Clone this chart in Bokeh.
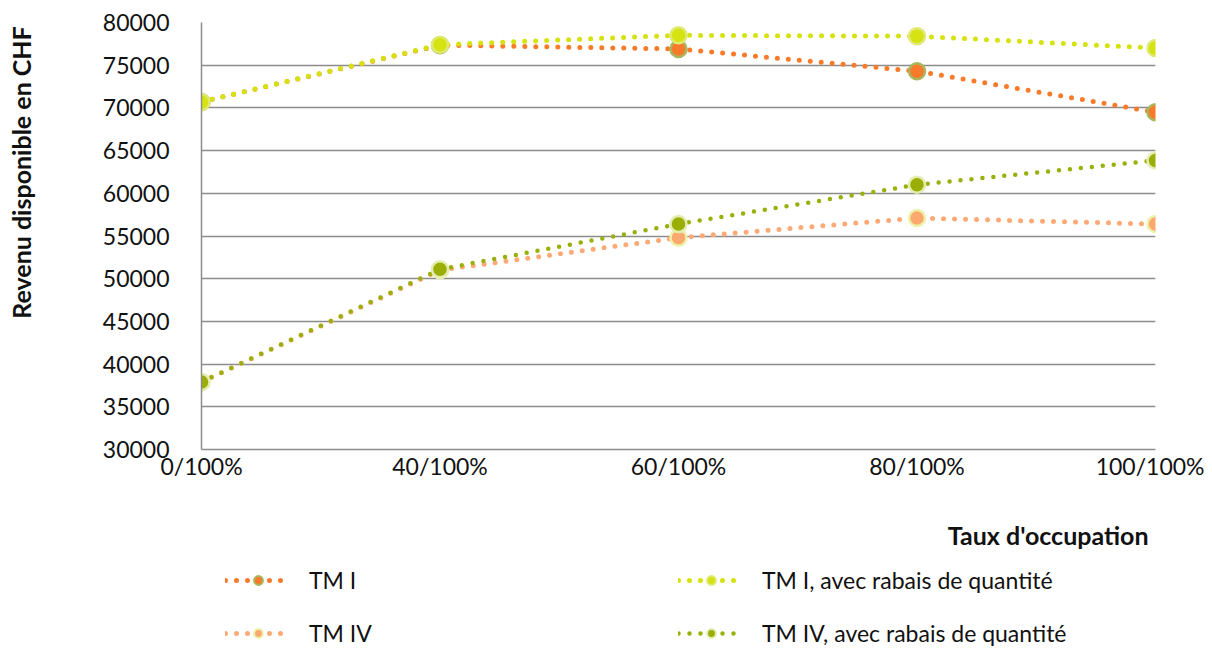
import math
from bokeh.plotting import figure
from bokeh.layouts import row, column
from bokeh.models import (Range1d, FixedTicker, NumeralTickFormatter, Legend,
                          LegendItem, ColumnDataSource, Label)
from bokeh.embed import file_html
from bokeh.resources import INLINE

categories = ["0/100%", "40/100%", "60/100%", "80/100%", "100/100%"]
tm1 = [70700, 77350, 76900, 74300, 69500]
tm1_rabais = [70700, 77400, 78500, 78400, 77000]
tm4 = [37900, 51000, 54800, 57100, 56400]
tm4_rabais = [37900, 51100, 56400, 61000, 63850]
y_ticks = [30000, 35000, 40000, 45000, 50000, 55000, 60000, 65000, 70000, 75000, 80000]

series_names = ["TM I", "TM I, avec rabais de quantité", "TM IV", "TM IV, avec rabais de quantité"]
series_values = [tm1, tm1_rabais, tm4, tm4_rabais]
line_colors = ["#f97b2a", "#d5e20c", "#fdaa76", "#9ab00a"]
fill_colors = ["#f87a2a", "#d6e312", "#fca96f", "#9bae06"]
border_colors = ["#a9b65c", "#dfe974", "#eef2a8", "#e3edb0"]
dot_widths = [5, 5, 5, 4.5]

FONT = "Lato"
TXT = "#111111"
x = list(range(len(categories)))

YLAB_W = 48
MAIN_W = 1156
MAIN_H = 489
LEG_H = 160

# ---------------- main chart ----------------
p = figure(width=MAIN_W, height=MAIN_H,
           x_range=Range1d(0, len(categories) - 1),
           y_range=Range1d(y_ticks[0], y_ticks[-1]),
           output_backend="svg", toolbar_location=None,
           min_border_left=201 - YLAB_W, min_border_top=22,
           min_border_right=49, min_border_bottom=40)
p.outline_line_color = None
p.xgrid.grid_line_color = None
p.ygrid.grid_line_color = "#8c8c8c"
p.ygrid.grid_line_width = 1.5

p.yaxis.ticker = FixedTicker(ticks=y_ticks)
p.yaxis.formatter = NumeralTickFormatter(format="0")
p.xaxis.ticker = FixedTicker(ticks=x)
p.xaxis.major_label_overrides = {i: c for i, c in zip(x, categories)}
for ax in (p.xaxis, p.yaxis):
    ax.major_tick_line_color = None
    ax.minor_tick_line_color = None
    ax.axis_line_color = "#8c8c8c"
    ax.axis_line_width = 1.5
    ax.major_label_text_font = FONT
    ax.major_label_text_font_size = "23px"
    ax.major_label_text_color = TXT
p.yaxis.major_label_standoff = 26
p.xaxis.major_label_standoff = -4

# ---------------- legend strip (below the chart) ----------------
lg = figure(width=YLAB_W + MAIN_W, height=LEG_H, x_range=Range1d(10, 11),
            y_range=Range1d(0, 1), x_axis_type=None, y_axis_type=None,
            output_backend="svg", toolbar_location=None, min_border=0)
lg.outline_line_color = None
lg.grid.visible = False

legend_items = {}
for name, vals, lc, fc, bc, dw in zip(series_names, series_values, line_colors,
                                      fill_colors, border_colors, dot_widths):
    src = ColumnDataSource(dict(x=x, y=vals))
    p.line("x", "y", source=src, line_color=lc, line_width=dw,
           line_dash="0 11", line_cap="round")
    p.scatter("x", "y", source=src, size=16, fill_color=fc,
              line_color=bc, line_width=2.5)
    # same series in the legend strip (outside its visible range), used for the key
    lr = lg.line("x", "y", source=src, line_color=lc, line_width=dw,
                 line_dash="0 11", line_cap="round")
    sr = lg.scatter("x", "y", source=src, size=13, fill_color=fc,
                    line_color=bc, line_width=2)
    legend_items[name] = LegendItem(label=name, renderers=[lr, sr])

xtitle = Label(x=1148, y=LEG_H - 45, x_units="screen", y_units="screen",
               text="Taux d'occupation", text_align="right", text_baseline="middle",
               text_font=FONT, text_font_size="25px", text_font_style="bold",
               text_color=TXT)
lg.add_layout(xtitle)

order = ["TM I", "TM IV", "TM I, avec rabais de quantité", "TM IV, avec rabais de quantité"]
legend = Legend(items=[legend_items[n] for n in order], orientation="vertical",
                nrows=2, location=(225, 2), margin=0, padding=0,
                glyph_width=66, glyph_height=22, label_height=22,
                label_width=344, label_standoff=18, spacing=25,
                label_text_font=FONT, label_text_font_size="23px",
                label_text_color=TXT,
                border_line_color=None, background_fill_alpha=0)
lg.add_layout(legend, "center")

# ---------------- y axis title strip (frame aligned with the chart's frame) ----------------
yl = figure(width=YLAB_W, height=MAIN_H, x_range=Range1d(0, 1), y_range=Range1d(0, 1),
            x_axis_type=None, y_axis_type=None, output_backend="svg",
            toolbar_location=None, min_border=0)
yl.outline_line_color = None
yl.grid.visible = False
ytitle = Label(x=20, y=449 - 172, x_units="screen", y_units="screen",
               text="Revenu disponible en CHF", angle=math.pi / 2,
               text_align="center", text_baseline="middle",
               text_font=FONT, text_font_size="25px", text_font_style="bold",
               text_color=TXT)
yl.add_layout(ytitle)

layout = column(row(yl, p, spacing=0), lg, spacing=0)
open("out.html", "w").write(file_html(layout, INLINE))
